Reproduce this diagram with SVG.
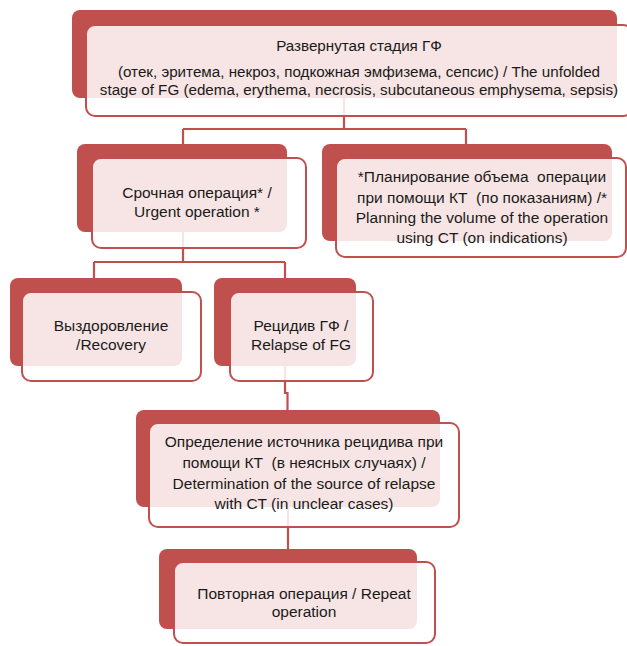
<svg xmlns="http://www.w3.org/2000/svg" width="627" height="646" viewBox="0 0 627 646">
<style>
.back{fill:#C0504D;}
.front{fill:#FFFFFF;fill-opacity:0.85;stroke:#C0504D;stroke-width:2;}
.conn{fill:none;stroke:#C0504D;stroke-width:2.2;}
text{font-family:"Liberation Sans",Arial,sans-serif;font-size:15.5px;fill:#1a1a1a;text-anchor:middle;white-space:pre;}
.sm{font-size:15.2px;}
</style>
<rect width="627" height="646" fill="#FFFFFF"/>
<g id="connectors">
<path class="conn" d="M344,98 V129 M183,129 H466 M183,129 V144 M466,129 V144"/>
<path class="conn" d="M183,232 V262 M94,262 H285 M94,262 V278 M285,262 V278"/>
<path class="conn" d="M285,366 V393 H287.5 V410"/>
<path class="conn" d="M288,507 V549"/>
</g>
<g id="node-top">
<rect class="back" x="72" y="10" width="545" height="88" rx="8"/>
<rect class="front" x="86" y="25" width="546" height="91" rx="9"/>
<text class="sm" x="359" y="51">Развернутая стадия ГФ</text>
<text class="sm" x="359" y="77">(отек, эритема, некроз, подкожная эмфизема, сепсис) / The unfolded</text>
<text class="sm" x="359" y="95">stage of FG (edema, erythema, necrosis, subcutaneous emphysema, sepsis)</text>
</g>
<g id="node-urgent">
<rect class="back" x="77" y="144" width="210" height="88" rx="8"/>
<rect class="front" x="92" y="158" width="214" height="90" rx="9"/>
<text x="197" y="198">Срочная операция* /</text>
<text x="197" y="217">Urgent operation *</text>
</g>
<g id="node-planning">
<rect class="back" x="322" y="144" width="290" height="97" rx="8"/>
<rect class="front" x="336" y="158" width="290" height="99" rx="9"/>
<text x="482" y="182">*Планирование объема  операции</text>
<text x="482" y="202.5">при помощи КТ  (по показаниям) /*</text>
<text x="482" y="223">Planning the volume of the operation</text>
<text x="482" y="243">using CT (on indications)</text>
</g>
<g id="node-recovery">
<rect class="back" x="10" y="278" width="172" height="88" rx="8"/>
<rect class="front" x="22" y="292" width="179" height="89" rx="9"/>
<text x="111" y="331">Выздоровление</text>
<text x="111" y="350">/Recovery</text>
</g>
<g id="node-relapse">
<rect class="back" x="214" y="278" width="142" height="88" rx="8"/>
<rect class="front" x="230" y="292" width="143" height="89" rx="9"/>
<text x="301" y="331">Рецидив ГФ /</text>
<text x="301" y="350">Relapse of FG</text>
</g>
<g id="node-determination">
<rect class="back" x="136" y="410" width="304" height="97" rx="8"/>
<rect class="front" x="149" y="423" width="310" height="104" rx="9"/>
<text x="304" y="447">Определение источника рецидива при</text>
<text x="304" y="468">помощи КТ  (в неясных случаях) /</text>
<text x="304" y="489">Determination of the source of relapse</text>
<text x="304" y="509">with CT (in unclear cases)</text>
</g>
<g id="node-repeat">
<rect class="back" x="159" y="549" width="258" height="80" rx="8"/>
<rect class="front" x="174" y="562" width="261" height="81" rx="9"/>
<text x="304" y="599">Повторная операция / Repeat</text>
<text x="304" y="617">operation</text>
</g>
</svg>
